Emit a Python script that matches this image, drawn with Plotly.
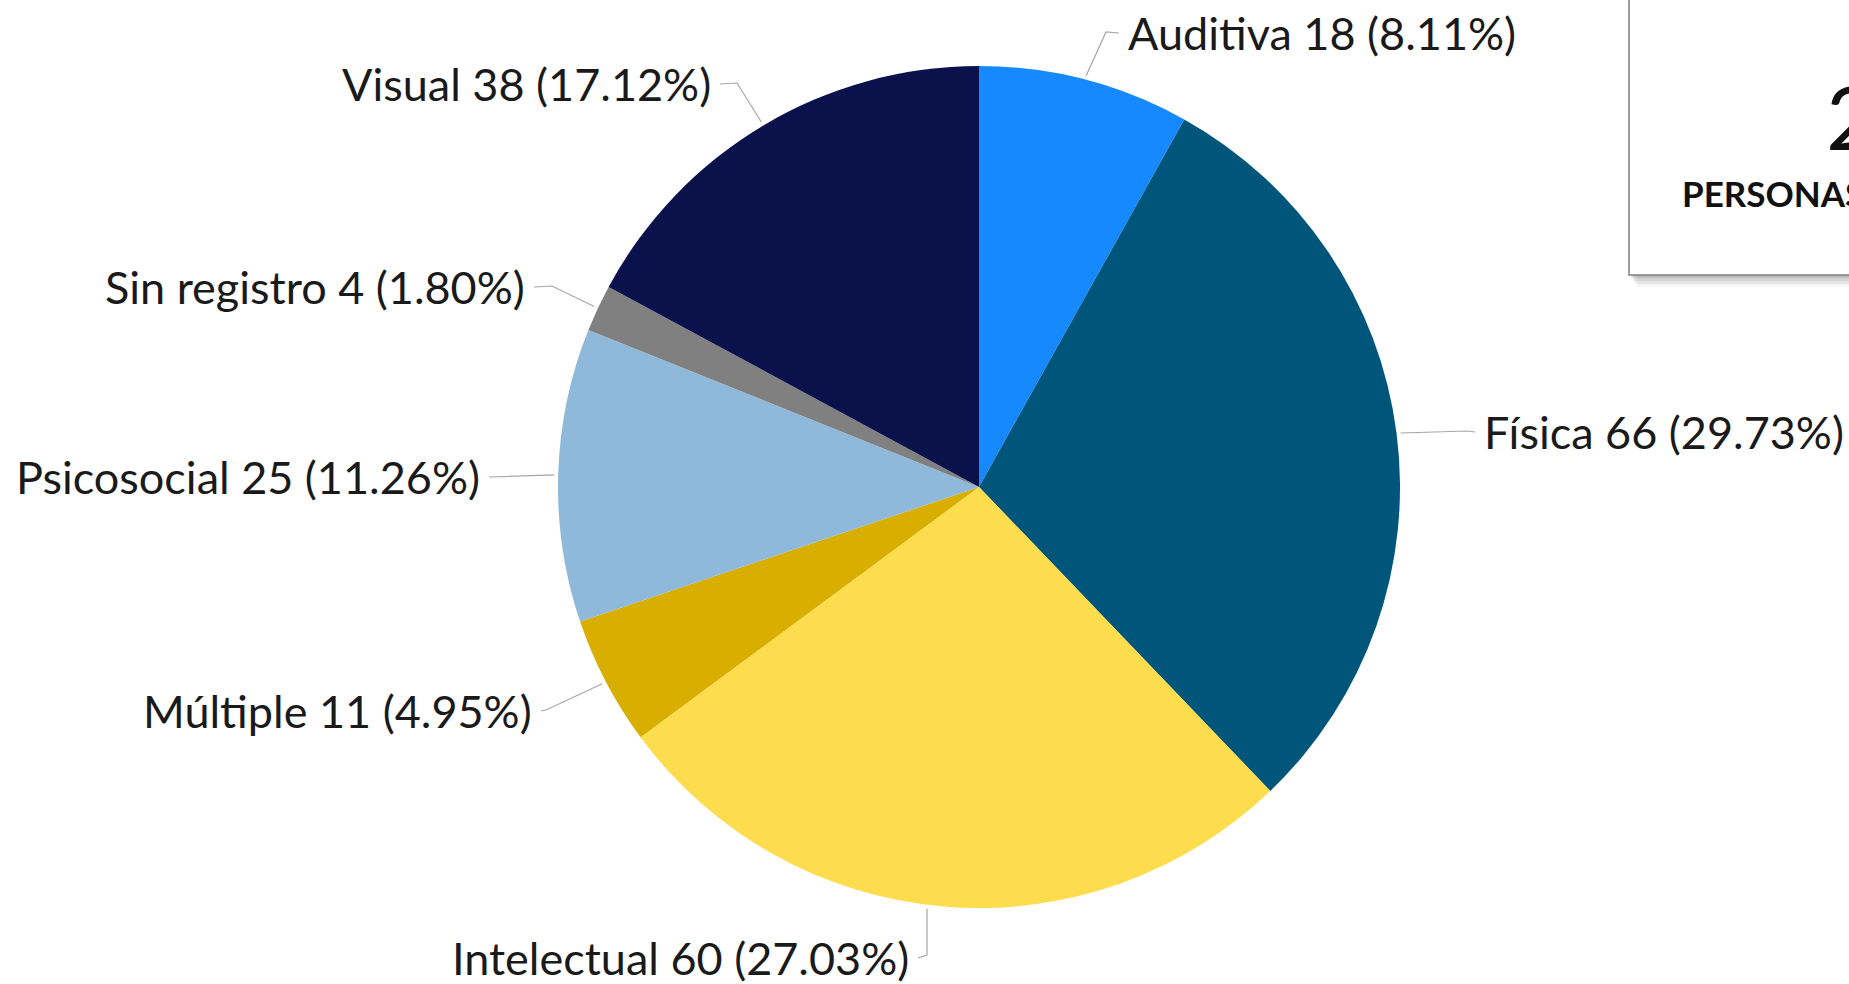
import math
import plotly.graph_objects as go

# ---- data ----
categories = ["Auditiva", "Física", "Intelectual", "Múltiple", "Psicosocial", "Sin registro", "Visual"]
values = [18, 66, 60, 11, 25, 4, 38]
percent_labels = ["8.11%", "29.73%", "27.03%", "4.95%", "11.26%", "1.80%", "17.12%"]
total_label = "222"
box_caption = "PERSONAS"

# ---- styles / layout ----
colors = ["#1689FE", "#00567A", "#FDDC4E", "#D8AF00", "#8EB9DA", "#808080", "#0B114B"]
W, H = 1849, 984
CX, CY, R = 979, 487, 421  # pie centre / radius in pixels
LABEL_FONT = dict(family="Lato, Open Sans, sans-serif", size=45, color="#1A1A1A")

# label placement (pixels): text anchor point, side, elbow point, optional leader x on the rim
label_layout = {
    "Auditiva":     dict(tx=1126, ty=33,  anchor="left",  elbow=(1106, 32)),
    "Física":       dict(tx=1482, ty=432, anchor="left",  elbow=(1467, 431)),
    "Intelectual":  dict(tx=911,  ty=958, anchor="right", elbow=(927, 955), rim_x=927),
    "Múltiple":     dict(tx=534,  ty=711, anchor="right", elbow=(546, 710)),
    "Psicosocial":  dict(tx=482,  ty=477, anchor="right", elbow=(490, 477)),
    "Sin registro": dict(tx=527,  ty=287, anchor="right", elbow=(552, 286)),
    "Visual":       dict(tx=713,  ty=84,  anchor="right", elbow=(737, 83)),
}

def px(x):
    return x / W

def py(y):
    return 1 - y / H

fig = go.Figure(go.Pie(
    labels=categories,
    values=values,
    sort=False,
    direction="clockwise",
    rotation=0,
    marker=dict(colors=colors, line=dict(width=0)),
    textinfo="none",
    hoverinfo="label+value+percent",
    showlegend=False,
    domain=dict(x=[px(CX - R), px(CX + R)], y=[py(CY + R), py(CY - R)]),
))

annotations = []
shapes = []
total = sum(values)
cum = 0
for cat, v, pct in zip(categories, values, percent_labels):
    mid = (cum + v / 2) / total * 2 * math.pi
    cum += v
    L = label_layout[cat]
    if "rim_x" in L:
        ex = L["rim_x"]
        ey = CY + math.sqrt((R + 4) ** 2 - (ex - CX) ** 2) * (1 if math.cos(mid) < 0 else -1)
    else:
        ex = CX + (R + 4) * math.sin(mid)
        ey = CY - (R + 4) * math.cos(mid)
    gap = 7 if L["anchor"] == "left" else -7
    lx0 = L["tx"] - gap
    bx, by = L["elbow"]
    path = f"M {px(ex)} {py(ey)} L {px(bx)} {py(by)} L {px(lx0)} {py(L['ty'])}"
    shapes.append(dict(type="path", xref="paper", yref="paper", path=path,
                       line=dict(color="#A6A6A6", width=1.2)))
    annotations.append(dict(
        x=px(L["tx"]), y=py(L["ty"]), xref="paper", yref="paper",
        text=f"{cat} {v} ({pct})", showarrow=False,
        xanchor=L["anchor"], yanchor="middle",
        font=LABEL_FONT,
    ))

# summary box (cropped at the right edge of the picture)
for i, op in enumerate([0.10, 0.08, 0.06, 0.04]):
    shapes.append(dict(type="rect", xref="paper", yref="paper",
                       x0=px(1629 + 2 + i * 2), x1=px(1900), y0=py(275 + 3 + i * 3), y1=py(-20),
                       line=dict(width=0), fillcolor=f"rgba(0,0,0,{op})", layer="below"))
shapes.append(dict(type="rect", xref="paper", yref="paper",
                   x0=px(1629), x1=px(1900), y0=py(275), y1=py(-20),
                   line=dict(color="#7F7F7F", width=1.5), fillcolor="white", layer="below"))
annotations.append(dict(x=px(1824), y=py(116), xref="paper", yref="paper", text=total_label,
                        showarrow=False, xanchor="left", yanchor="middle",
                        font=dict(family="Lato, sans-serif", size=88, color="#111111")))
annotations.append(dict(x=px(1680), y=py(193), xref="paper", yref="paper", text=f"<b>{box_caption}</b>",
                        showarrow=False, xanchor="left", yanchor="middle",
                        font=dict(family="Lato, sans-serif", size=35, color="#111111")))

fig.update_layout(
    width=W, height=H,
    margin=dict(l=0, r=0, t=0, b=0),
    paper_bgcolor="white",
    plot_bgcolor="white",
    shapes=shapes,
    annotations=annotations,
)

fig.write_html("out.html", config={"displayModeBar": False},
               post_script="document.body.style.margin='0';")
